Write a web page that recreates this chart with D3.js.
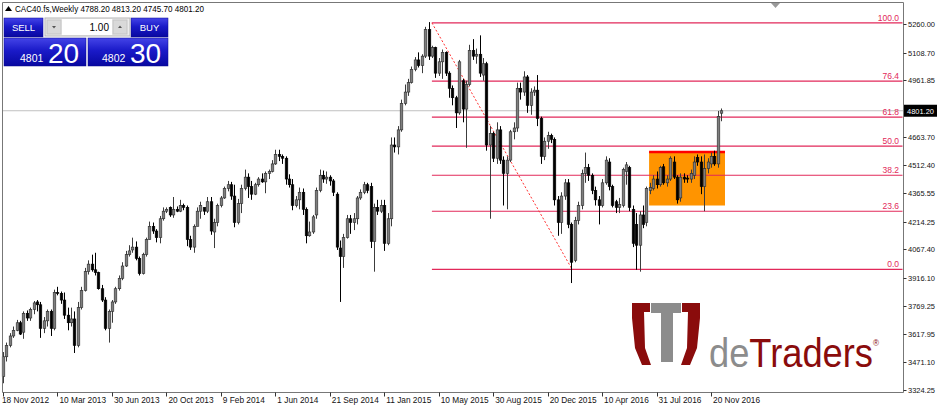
<!DOCTYPE html>
<html>
<head>
<meta charset="utf-8">
<script src="https://cdnjs.cloudflare.com/ajax/libs/d3/7.8.5/d3.min.js"></script>
<style>
body { margin:0; background:#fff; overflow:hidden; }
svg text { font-family:"Liberation Sans", Arial, sans-serif; }
</style>
</head>
<body>
<div id="container"></div>
<script>

// weekly bars, CAC40.fs (bar 0 = 18 Nov 2012)
var opens = [
 3395,3500,3560,3610,3640,3680,3630,3730,3705,3750,
 3790,3775,3650,3690,3740,3650,3840,3835,3800,3720,
 3680,3700,3560,3760,3850,3950,3990,3960,3945,3860,
 3800,3650,3740,3790,3860,3915,3980,4040,4065,4080,
 4020,3940,4040,4120,4190,4165,4130,4230,4270,4290,
 4250,4280,4270,4300,4290,4120,4080,4190,4270,4290,
 4270,4320,4160,4210,4300,4340,4390,4410,4350,4210,
 4310,4390,4450,4400,4360,4410,4440,4425,4470,4480,
 4520,4570,4560,4550,4440,4410,4300,4330,4370,4280,
 4140,4160,4250,4380,4460,4440,4450,4430,4360,4075,
 4030,4130,4230,4210,4230,4340,4370,4410,4400,4110,
 4290,4270,4300,4100,4230,4620,4610,4700,4840,4900,
 4950,5020,5070,5040,5090,5230,5090,5135,5000,5060,
 5110,5000,4920,4870,4790,4960,4810,4940,5120,5090,
 5100,4990,5050,4620,4680,4550,4700,4540,4470,4540,
 4690,4710,4920,4900,4980,4830,4900,4910,4760,4560,
 4640,4670,4650,4330,4210,4350,4420,4200,4010,4220,
 4300,4470,4500,4460,4380,4330,4300,4420,4530,4400,
 4320,4290,4300,4480,4500,4280,4200,4090,4250,4210,
 4380,4390,4440,4410,4505,4420,4440,4530,4450,4340,
 4450,4445,4440,4460,4555,4530,4400,4495,4520,4560,
 4520,4788.2];
var highs = [
 3525,3575,3625,3660,3695,3690,3740,3745,3760,3795,
 3800,3790,3710,3750,3750,3855,3870,3845,3840,3760,
 3760,3740,3790,3870,3970,4010,4040,4050,3950,3880,
 3815,3750,3800,3870,3930,4000,4060,4090,4130,4110,
 4030,4050,4130,4215,4210,4175,4245,4290,4290,4295,
 4345,4295,4330,4310,4300,4140,4200,4290,4320,4290,
 4345,4345,4230,4310,4350,4400,4430,4425,4410,4335,
 4410,4490,4470,4430,4420,4450,4470,4480,4490,4540,
 4595,4595,4570,4560,4465,4440,4350,4395,4390,4290,
 4215,4250,4395,4490,4485,4480,4460,4440,4370,4115,
 4150,4250,4250,4260,4350,4385,4425,4420,4420,4310,
 4330,4330,4330,4260,4660,4660,4720,4860,4940,4970,
 5035,5085,5110,5100,5245,5270,5145,5140,5080,5125,
 5115,5010,4935,4880,5070,4970,4960,5150,5180,5130,
 5200,5080,5060,4720,4690,4740,4720,4560,4560,4700,
 4740,4950,4950,5010,4990,4920,4930,4990,4770,4660,
 4690,4680,4660,4350,4370,4440,4440,4210,4240,4320,
 4490,4580,4520,4470,4400,4350,4440,4560,4550,4410,
 4330,4340,4500,4530,4510,4300,4260,4270,4300,4400,
 4420,4460,4480,4510,4520,4460,4560,4560,4460,4470,
 4470,4460,4490,4560,4570,4560,4570,4550,4580,4590,
 4800,4813.2];
var lows = [
 3360,3475,3550,3600,3635,3615,3595,3690,3690,3725,
 3740,3600,3625,3660,3610,3640,3825,3780,3700,3640,
 3660,3520,3550,3750,3845,3935,3950,3930,3855,3790,
 3640,3575,3680,3780,3850,3905,3975,4030,4050,4010,
 3930,3935,4030,4120,4150,4105,4100,4220,4260,4240,
 4235,4265,4265,4275,4085,4065,4050,4190,4230,4250,
 4260,4145,4075,4190,4290,4335,4375,4330,4185,4200,
 4260,4380,4340,4330,4355,4400,4420,4365,4440,4475,
 4515,4535,4520,4410,4395,4275,4290,4280,4250,4100,
 4135,4150,4230,4370,4420,4415,4405,4350,4065,3790,
 3970,4125,4150,4170,4200,4330,4360,4365,4075,3950,
 4250,4260,4060,4090,4190,4580,4570,4690,4830,4880,
 4945,5010,5030,5000,5080,5070,5080,4975,4985,4970,
 4985,4870,4830,4710,4780,4740,4605,4930,5070,5050,
 4980,4960,4590,4230,4530,4520,4520,4300,4280,4530,
 4650,4690,4860,4880,4790,4780,4880,4720,4520,4540,
 4600,4630,4300,4140,4150,4330,4180,3890,4000,4200,
 4280,4420,4430,4360,4300,4200,4290,4410,4380,4290,
 4260,4260,4290,4410,4270,4080,3960,3950,4180,4190,
 4360,4380,4390,4400,4410,4400,4430,4440,4310,4320,
 4420,4420,4420,4440,4510,4360,4270,4470,4500,4510,
 4500,4745.7];
var closes = [
 3500,3560,3610,3640,3680,3620,3730,3705,3750,3785,
 3775,3650,3690,3740,3650,3840,3835,3800,3720,3680,
 3700,3560,3760,3850,3950,3990,3960,3945,3860,3800,
 3650,3740,3790,3860,3915,3980,4040,4060,4080,4020,
 3940,4040,4120,4190,4165,4130,4230,4270,4280,4250,
 4280,4270,4300,4290,4120,4080,4190,4270,4300,4270,
 4320,4165,4210,4300,4340,4390,4410,4350,4210,4310,
 4390,4450,4400,4360,4410,4440,4425,4470,4480,4520,
 4570,4560,4550,4440,4410,4300,4330,4370,4280,4140,
 4160,4240,4380,4460,4440,4450,4430,4370,4080,4030,
 4130,4230,4210,4230,4340,4370,4410,4380,4110,4290,
 4270,4300,4100,4230,4620,4610,4700,4840,4900,4950,
 5020,5070,5040,5090,5230,5090,5135,5000,5060,5110,
 5000,4920,4870,4790,5060,4810,4940,5120,5090,5100,
 5000,5050,4620,4680,4550,4700,4540,4470,4540,4690,
 4710,4920,4900,4980,4830,4900,4910,4760,4560,4640,
 4670,4650,4330,4210,4350,4420,4200,4000,4220,4300,
 4470,4500,4460,4380,4330,4300,4420,4540,4400,4300,
 4290,4305,4490,4515,4290,4100,4090,4250,4200,4390,
 4395,4440,4410,4500,4420,4440,4550,4450,4330,4450,
 4440,4440,4470,4530,4530,4400,4495,4530,4560,4520,
 4770,4801.2];

// time axis: one label every 16 bars
var dateLabels = ["18 Nov 2012","10 Mar 2013","30 Jun 2013","20 Oct 2013","9 Feb 2014",
  "1 Jun 2014","21 Sep 2014","11 Jan 2015","10 May 2015","30 Aug 2015","20 Dec 2015",
  "10 Apr 2016","31 Jul 2016","20 Nov 2016"];
var labelStep = 16;

var priceTicks = [5260.00,5108.70,4961.85,4663.70,4512.40,4365.55,4214.25,
  4067.40,3916.10,3769.25,3617.95,3471.10,3324.25];

// fibonacci retracement, anchors as [bar, price]
var fibLevels = [0, 23.6, 38.2, 50.0, 61.8, 76.4, 100.0];
var fibHigh = [126, 5266];
var fibLow = [167.2, 3962];

// orange consolidation box, [bar from, bar to] and [low, high]
var boxBars = [189.8, 212.1];
var boxPrices = [4300, 4583];

var symbol = "CAC40.fs,Weekly";
var lotSize = 1.00;
var bidPrice = 4801.20, askPrice = 4802.30;

function init() {
	render();
}

function render() {
	var width = 937, height = 407;
	var frame = {left:2.5, top:2.5, right:903.5, bottom:392.5};

	var svg = d3.select('#container')
		.append('svg')
		.attr('width', width)
		.attr('height', height);

	var x = d3.scaleLinear().domain([0, 211]).range([3, 3 + 3.404 * 211]);
	var y = d3.scaleLinear().domain([3324.25, 5260]).range([390, 24]);

	var fy = function(lvl) { return y(fibLow[1] + (fibHigh[1] - fibLow[1]) * lvl / 100); };

	// bid line
	svg.append('line')
		.attr('x1', frame.left).attr('x2', frame.right)
		.attr('y1', y(bidPrice)).attr('y2', y(bidPrice))
		.attr('stroke', '#c0c0c0').attr('stroke-width', 1);

	// orange box + red top edge
	svg.append('rect')
		.attr('x', x(boxBars[0]))
		.attr('y', y(boxPrices[1]))
		.attr('width', x(boxBars[1]) - x(boxBars[0]))
		.attr('height', y(boxPrices[0]) - y(boxPrices[1]))
		.attr('fill', '#ff9400');
	svg.append('line')
		.attr('x1', x(boxBars[0])).attr('x2', x(boxBars[1]))
		.attr('y1', y(boxPrices[1])).attr('y2', y(boxPrices[1]))
		.attr('stroke', '#ff0000').attr('stroke-width', 2.5);

	// fib levels
	var fib = svg.append('g');
	fib.selectAll('line')
		.data(fibLevels)
		.enter()
		.append('line')
		.attr('x1', x(fibHigh[0])).attr('x2', frame.right - 1)
		.attr('y1', d => fy(d)).attr('y2', d => fy(d))
		.attr('stroke', '#e2295a').attr('stroke-width', 1.2);
	fib.selectAll('text')
		.data(fibLevels)
		.enter()
		.append('text')
		.attr('x', 899)
		.attr('y', d => fy(d) - 2)
		.attr('text-anchor', 'end')
		.attr('font-size', '8.5px')
		.attr('fill', '#e2295a')
		.text(d => d.toFixed(1));
	fib.append('line')
		.attr('x1', x(fibHigh[0])).attr('y1', y(fibHigh[1]))
		.attr('x2', x(fibLow[0])).attr('y2', y(fibLow[1]))
		.attr('stroke', '#ff3030').attr('stroke-width', 1)
		.attr('stroke-dasharray', '2,2');

	// candles
	var bars = d3.range(closes.length).map(function(i) {
		return {i:i, o:opens[i], h:highs[i], l:lows[i], c:closes[i]};
	});
	var cx = d => Math.round(x(d.i)) + 0.5;

	var candles = svg.append('g')
		.selectAll('.bar')
		.data(bars)
		.enter()
		.append('g')
		.attr('class', 'bar');

	candles.append('line')
		.attr('x1', cx).attr('x2', cx)
		.attr('y1', d => y(d.h)).attr('y2', d => y(d.l))
		.attr('stroke', d => d.c >= d.o ? '#3c3c3c' : '#000')
		.attr('stroke-width', 1);

	candles.append('rect')
		.attr('x', d => cx(d) - 1.3)
		.attr('width', 2.6)
		.attr('y', d => y(Math.max(d.o, d.c)))
		.attr('height', d => Math.max(1, Math.abs(y(d.o) - y(d.c))))
		.attr('fill', d => d.c >= d.o ? '#7e7e7e' : '#000')
		.attr('stroke', d => d.c >= d.o ? '#2a2a2a' : '#000')
		.attr('stroke-width', 0.6);

	// frame
	svg.append('path')
		.attr('d', 'M' + frame.left + ',' + frame.bottom + 'V' + frame.top + 'H' + frame.right + 'V' + frame.bottom + 'H' + frame.left)
		.attr('fill', 'none')
		.attr('stroke', '#777')
		.attr('stroke-width', 1);

	// chart shift marker
	svg.append('path')
		.attr('d', 'M771,3 L780,3 L775.5,8 Z')
		.attr('fill', '#9a9a9a');

	// price axis
	var pax = svg.append('g');
	pax.selectAll('line')
		.data(priceTicks)
		.enter()
		.append('line')
		.attr('x1', 903.5).attr('x2', 906.5)
		.attr('y1', d => Math.round(y(d)) + 0.5).attr('y2', d => Math.round(y(d)) + 0.5)
		.attr('stroke', '#333');
	pax.selectAll('text')
		.data(priceTicks)
		.enter()
		.append('text')
		.attr('x', 908)
		.attr('y', d => y(d) + 3)
		.attr('font-size', '8px')
		.attr('textLength', 27).attr('lengthAdjust', 'spacingAndGlyphs')
		.attr('fill', '#111')
		.text(d => d.toFixed(2));

	// current price label
	svg.append('rect')
		.attr('x', 904).attr('y', y(bidPrice) - 6)
		.attr('width', 33).attr('height', 12)
		.attr('fill', '#000');
	svg.append('text')
		.attr('x', 907).attr('y', y(bidPrice) + 3)
		.attr('font-size', '8px')
		.attr('textLength', 27).attr('lengthAdjust', 'spacingAndGlyphs')
		.attr('fill', '#fff')
		.text(bidPrice.toFixed(2));

	// time axis
	var tax = svg.append('g');
	tax.selectAll('line')
		.data(dateLabels)
		.enter()
		.append('line')
		.attr('x1', (d, i) => Math.round(x(i * labelStep)) + 0.5)
		.attr('x2', (d, i) => Math.round(x(i * labelStep)) + 0.5)
		.attr('y1', 392.5).attr('y2', 396.5)
		.attr('stroke', '#333');
	tax.selectAll('text')
		.data(dateLabels)
		.enter()
		.append('text')
		.attr('x', (d, i) => i == 0 ? 2 : x(i * labelStep) + 2)
		.attr('y', 403)
		.attr('font-size', '8.3px')
		.attr('fill', '#111')
		.text(d => d);

	// title
	var last = closes.length - 1;
	svg.append('path')
		.attr('d', 'M5,11 L8.5,6 L12,11 Z')
		.attr('fill', '#000');
	svg.append('text')
		.attr('x', 15).attr('y', 12)
		.attr('font-size', '8.5px')
		.attr('textLength', 189).attr('lengthAdjust', 'spacingAndGlyphs')
		.attr('fill', '#000')
		.text(symbol + '  ' + [opens[last], highs[last], lows[last], closes[last]].map(v => v.toFixed(2)).join(' '));

	drawPanel(svg);
	drawLogo(svg);
}

function drawPanel(svg) {
	var defs = svg.append('defs');
	var grad = defs.append('linearGradient')
		.attr('id', 'blueG')
		.attr('x1', 0).attr('y1', 0).attr('x2', 0).attr('y2', 1);
	grad.append('stop').attr('offset', '0%').attr('stop-color', '#4444e8');
	grad.append('stop').attr('offset', '45%').attr('stop-color', '#1a1ac8');
	grad.append('stop').attr('offset', '100%').attr('stop-color', '#0808a0');

	var p = svg.append('g');
	var boxes = [[4, 18, 39, 19], [131, 18, 37, 19], [4, 38, 82, 28], [88, 38, 80, 28]];
	p.selectAll('rect.btn')
		.data(boxes)
		.enter()
		.append('rect')
		.attr('class', 'btn')
		.attr('x', d => d[0]).attr('y', d => d[1])
		.attr('width', d => d[2]).attr('height', d => d[3])
		.attr('fill', 'url(#blueG)')
		.attr('stroke', '#0a0a90').attr('stroke-width', 0.5);

	// spinner
	p.append('rect').attr('x', 45).attr('y', 18).attr('width', 85).attr('height', 18)
		.attr('fill', '#ececec').attr('stroke', '#b5b5b5');
	p.append('rect').attr('x', 62).attr('y', 19).attr('width', 50).attr('height', 16)
		.attr('fill', '#fff');
	p.append('rect').attr('x', 47).attr('y', 20).attr('width', 14).attr('height', 14)
		.attr('fill', '#d9d9d9').attr('stroke', '#c4c4c4');
	p.append('rect').attr('x', 113).attr('y', 20).attr('width', 14).attr('height', 14)
		.attr('fill', '#d9d9d9').attr('stroke', '#c4c4c4');
	p.append('path').attr('d', 'M52,26 L56,26 L54,28.5 Z').attr('fill', '#555');
	p.append('path').attr('d', 'M118,28 L122,28 L120,25.5 Z').attr('fill', '#555');
	p.append('text').attr('x', 109).attr('y', 31).attr('text-anchor', 'end')
		.attr('font-size', '10px').attr('fill', '#000').text(lotSize.toFixed(2));

	p.append('text').attr('x', 23.5).attr('y', 31).attr('text-anchor', 'middle')
		.attr('font-size', '9.5px').attr('fill', '#fff').text('SELL');
	p.append('text').attr('x', 149.5).attr('y', 31).attr('text-anchor', 'middle')
		.attr('font-size', '9.5px').attr('fill', '#fff').text('BUY');

	var quotes = [[bidPrice, 20, 48], [askPrice, 102, 130]];
	quotes.forEach(function(q) {
		var s = q[0].toFixed(2).split('.');
		p.append('text').attr('x', q[1]).attr('y', 62)
			.attr('font-size', '10.5px').attr('fill', '#fff').text(s[0]);
		p.append('text').attr('x', q[2]).attr('y', 62.5)
			.attr('font-size', '28px').attr('fill', '#fff').text(s[1]);
	});
}

function drawLogo(svg) {
	var red = '#8a0c0c';
	var g = svg.append('g');
	g.append('path')
		.attr('d', 'M650,303 L632,303 L632,318 L635,348 L642,365 L651,365 L645,348 L644,312 L650,312 Z')
		.attr('fill', red);
	g.append('path')
		.attr('d', 'M682,303 L700,303 L700,318 L697,348 L690,365 L681,365 L687,348 L688,312 L682,312 Z')
		.attr('fill', red);
	g.append('path')
		.attr('d', 'M651,303 L681,303 L681,313 L673,313 L673,362 L661,362 L661,313 L651,313 Z')
		.attr('fill', '#8c8c8c');
	// one text node for the whole mark, colours and the small ® as tspans
	var word = g.append('text').attr('x', 709).attr('y', 367)
		.attr('font-size', '40px')
		.attr('textLength', 170).attr('lengthAdjust', 'spacingAndGlyphs');
	word.append('tspan').attr('fill', '#8c8c8c').text('de');
	word.append('tspan').attr('fill', red).text('Traders');
	word.append('tspan').attr('fill', red).attr('font-size', '9px').attr('dy', -21).text('\u00ae');
}

init();
</script>
</body>
</html>
